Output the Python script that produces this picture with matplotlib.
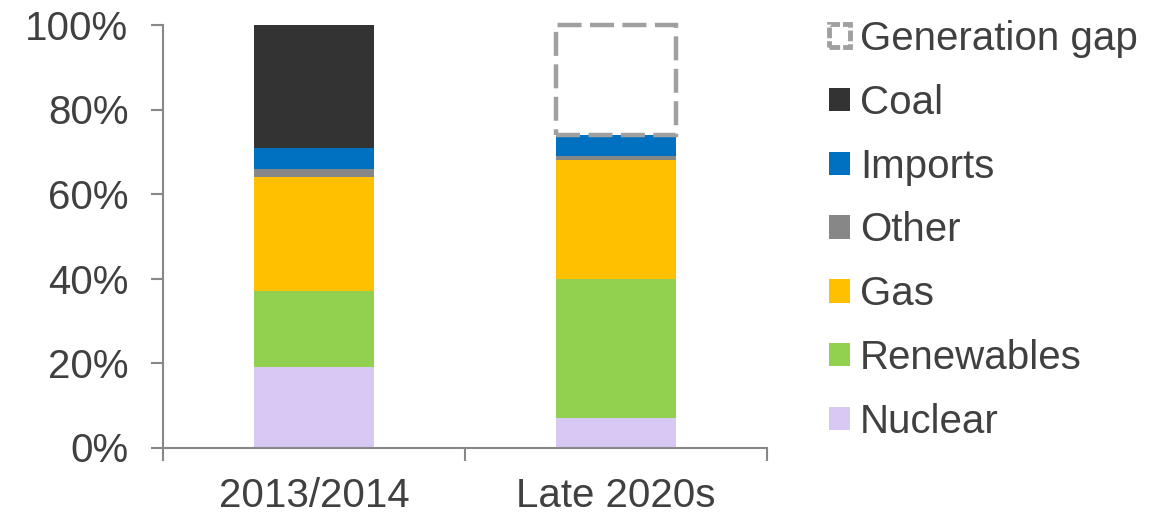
import matplotlib
matplotlib.use("Agg")
import matplotlib.pyplot as plt
from matplotlib.patches import Patch, Rectangle
import numpy as np

plt.rcParams['font.family'] = ['Liberation Sans', 'DejaVu Sans']

categories = ["2013/2014", "Late 2020s"]
series_names = ["Nuclear", "Renewables", "Gas", "Other", "Imports", "Coal"]
nuclear = [19, 7]
renewables = [18, 33]
gas = [27, 28]
other = [2, 1]
imports = [5, 5]
coal = [29, 0]
generation_gap = [0, 26]
colors = ["#d7c9f3", "#92d050", "#ffc000", "#878787", "#0070c0", "#333333"]
gap_color = "#a0a0a0"
ytick_labels = ["0%", "20%", "40%", "60%", "80%", "100%"]

fig = plt.figure(figsize=(11.72, 5.14), dpi=100)
ax = fig.add_axes([163/1172, 1-447.5/514, 604/1172, 422.5/514])

x = np.arange(len(categories))
width = 0.4
bottom = np.zeros(len(categories))
handles = []
for name, vals, c in zip(series_names, [nuclear, renewables, gas, other, imports, coal], colors):
    vals = np.array(vals, dtype=float)
    ax.bar(x, vals, width, bottom=bottom, color=c, edgecolor='none')
    bottom += vals
    handles.append(Patch(facecolor=c, edgecolor='none', label=name))

# generation gap dashed box
gap = np.array(generation_gap, dtype=float)
for i in range(len(categories)):
    if gap[i] > 0:
        ax.add_patch(Rectangle((x[i]-width/2, bottom[i]), width, gap[i], fill=False,
                               edgecolor=gap_color, linewidth=3.2, linestyle=(0, (5.4, 1.9)),
                               clip_on=False, zorder=3))
gap_handle = Patch(facecolor='none', edgecolor=gap_color, linewidth=3.5, linestyle=(0, (2.2, 0.6)),
                   label="Generation gap")

ax.set_xlim(-0.5, 1.5)
ax.set_ylim(0, 100)
ax.set_yticks(np.arange(0, 101, 20))
ax.set_yticklabels(ytick_labels)
ax.set_xticks(x)
ax.set_xticklabels(categories)
ax.set_xticks([-0.5, 0.5, 1.5], minor=True)

for s in ['top', 'right']:
    ax.spines[s].set_visible(False)
for s in ['left', 'bottom']:
    ax.spines[s].set_color('#888888')
    ax.spines[s].set_linewidth(1.5)

ax.tick_params(axis='y', which='major', length=9, width=1.5, color='#888888',
               labelsize=29, labelcolor='#404040', pad=16)
ax.tick_params(axis='x', which='major', length=0, labelsize=29, labelcolor='#404040', pad=21)
ax.tick_params(axis='x', which='minor', length=9, width=1.5, color='#888888')

leg_handles = [gap_handle] + handles[::-1]
leg = fig.legend(handles=leg_handles, loc='upper left', bbox_to_anchor=(829/1172, 1-20/514),
                 frameon=False, fontsize=29, labelcolor='#404040',
                 handlelength=0.52, handleheight=0.52, handletextpad=0.25, labelspacing=0.64,
                 borderaxespad=0, borderpad=0)

fig.savefig("out.png", dpi=100)
